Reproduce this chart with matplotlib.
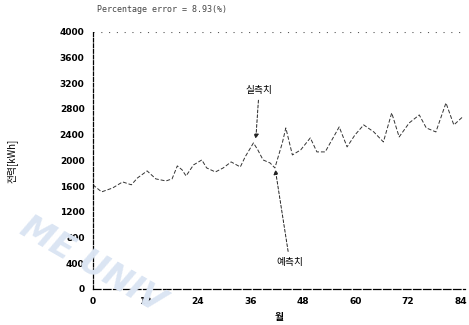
import numpy as np
import matplotlib.pyplot as plt

plt.rcParams['font.family'] = ['Noto Sans CJK KR', 'DejaVu Sans']

# monthly power values
months = [0, 2, 4.5, 6.8, 8.8, 10.2, 12.4, 14.4, 16.7, 18.1, 19.3, 20.4, 21.3,
          23.0, 24.9, 26.0, 28.0, 29.8, 31.6, 33.7, 34.8, 36.7, 37.7, 38.9,
          40.5, 41.6, 43.3, 44.1, 45.6, 47.5, 49.7, 51.2, 53.1, 56.3, 58.1,
          59.9, 61.9, 64.2, 66.4, 68.3, 70.0, 72.3, 74.6, 76.2, 78.4, 80.7,
          82.5, 84.5]
power = [1620, 1510, 1570, 1665, 1620, 1727, 1836, 1712, 1680, 1712, 1914,
         1852, 1758, 1929, 2007, 1883, 1820, 1883, 1976, 1898, 2054, 2272,
         2163, 2007, 1960, 1883, 2272, 2505, 2085, 2163, 2350, 2132, 2132,
         2521, 2210, 2396, 2552, 2443, 2287, 2739, 2365, 2583, 2707, 2505,
         2443, 2894, 2552, 2676]

xticks = [0, 12, 24, 36, 48, 60, 72, 84]
yticks = np.arange(0, 4001, 400)

fig = plt.figure(figsize=(4.69, 3.25), dpi=100)
ax = fig.add_axes([0.198, 0.111, 0.793, 0.791])

# faint watermark of the scan
fig.text(0.03, 0.04, 'ME UNIV', fontsize=24, fontweight='bold', style='italic',
         color='#dbe5f3', rotation=-30, zorder=0, family='DejaVu Sans')

ax.plot(months, power, color='#333333', lw=0.7, ls=(0, (4, 2)))
ax.axhline(4000, color='#555555', lw=0.8, ls=(0, (1, 6)))

ax.set_xlim(0, 85)
ax.set_ylim(0, 4000)
ax.set_xticks(xticks)
ax.set_yticks(yticks)
ax.tick_params(labelsize=6.5, length=0, pad=6)
for lab in ax.get_xticklabels() + ax.get_yticklabels():
    lab.set_fontweight('bold')
    lab.set_family('DejaVu Sans')

for side in ['top', 'right']:
    ax.spines[side].set_visible(False)
ax.spines['left'].set_linestyle((0, (3, 1.5)))
ax.spines['bottom'].set_linestyle((0, (6, 2)))
ax.spines['left'].set_linewidth(0.9)
ax.spines['bottom'].set_linewidth(0.9)

ax.annotate('실측치', xy=(37.2, 2290), xytext=(38, 3100), fontsize=7,
            ha='center', va='center',
            arrowprops=dict(arrowstyle='-|>', color='#222222', lw=0.7,
                            ls=(0, (3, 2)), mutation_scale=7))
ax.annotate('예측치', xy=(41.6, 1900), xytext=(45, 420), fontsize=7,
            ha='center', va='center',
            arrowprops=dict(arrowstyle='-|>', color='#222222', lw=0.7,
                            ls=(0, (3, 2)), mutation_scale=7))

ax.set_ylabel('전력[kWh]', fontsize=7, labelpad=30)
ax.set_xlabel('월', fontsize=7, fontweight='bold', labelpad=4)
fig.text(0.207, 0.962, 'Percentage error = 8.93(%)', fontsize=6,
         color='#444444', family='DejaVu Sans Mono')

fig.savefig('out.png', dpi=100)
